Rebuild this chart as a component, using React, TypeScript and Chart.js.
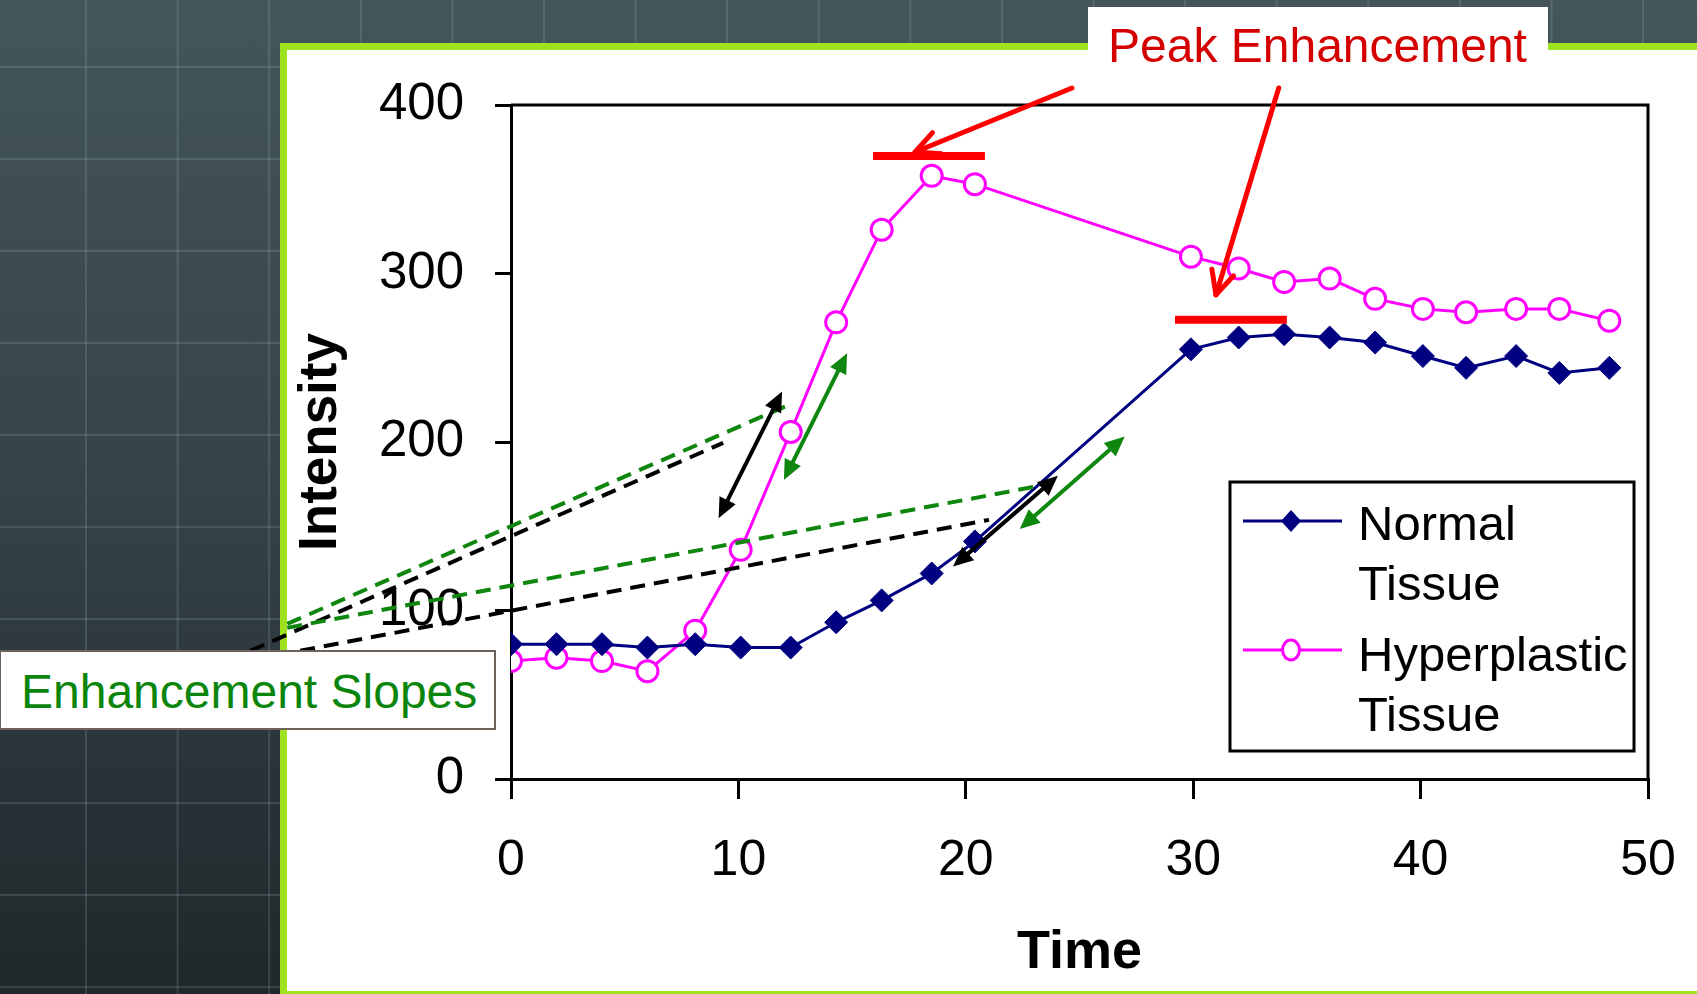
import React, { useEffect, useRef } from 'react';
import { Chart, registerables } from 'chart.js';

Chart.register(...registerables);

// ---- Data ----
const times = [0, 2, 4, 6, 8.1, 10.1, 12.3, 14.3, 16.3, 18.5, 20.4, 29.9, 32, 34, 36, 38, 40.1, 42, 44.2, 46.1, 48.3];
const normalTissue = [80, 80, 80, 78, 80, 78, 78, 93, 106, 122, 141, 255, 262, 264, 262, 259, 251, 244, 251, 241, 244];
const hyperplasticTissue = [70, 72, 70, 64, 88, 136, 206, 271, 326, 358, 353, 310, 303, 295, 297, 285, 279, 277, 279, 279, 272];
const xTickValues = [0, 10, 20, 30, 40, 50];
const yTickValues = [0, 100, 200, 300, 400];
const seriesNames = ['Normal Tissue', 'Hyperplastic Tissue'];

// ---- Annotations, in data units (time, intensity) ----
const slopeGuides = [
  { from: [-9.84, 92.1], to: [12.23, 222.1], color: 'green' },
  { from: [-11.46, 76.1], to: [9.33, 199.5], color: 'black' },
  { from: [-9.84, 89.7], to: [23.7, 175.2], color: 'green' },
  { from: [-9.27, 76.1], to: [21.02, 153.8], color: 'black' },
];
const slopeArrows = [
  { from: [9.13, 154.8], to: [11.92, 229.9], color: 'black' },
  { from: [12.0, 177.5], to: [14.78, 252.7], color: 'green' },
  { from: [19.44, 126.1], to: [24.05, 179.9], color: 'black' },
  { from: [22.37, 148.3], to: [26.99, 203.2], color: 'green' },
];
const peakBars = [
  { x0: 15.92, x1: 20.84, y: 369.7 },
  { x0: 29.2, x1: 34.12, y: 272.5 },
];
const peakArrows = [
  { from: [24.67, 410.1], to: [17.77, 372.1] },
  { from: [33.76, 410.1], to: [31.0, 287.3] },
];

const FONT = '"Liberation Sans", Arial, Helvetica, sans-serif';
const NAVY = '#000080';
const MAGENTA = '#ff00ff';
const GREEN = '#0f870f';
const RED = '#ff0000';

function colorOf(c: string) {
  return c === 'green' ? GREEN : '#000';
}

function filledHead(ctx: CanvasRenderingContext2D, tx: number, ty: number, fx: number, fy: number, len: number, half: number) {
  const a = Math.atan2(ty - fy, tx - fx);
  const bx = tx - len * Math.cos(a);
  const by = ty - len * Math.sin(a);
  ctx.beginPath();
  ctx.moveTo(tx, ty);
  ctx.lineTo(bx + half * Math.sin(a), by - half * Math.cos(a));
  ctx.lineTo(bx - half * Math.sin(a), by + half * Math.cos(a));
  ctx.closePath();
  ctx.fill();
}

const annotationPlugin = {
  id: 'reportAnnotations',
  beforeDatasetsDraw(chart: any) {
    const { ctx, chartArea: ca } = chart;
    ctx.save();
    ctx.strokeStyle = '#000';
    ctx.lineWidth = 3;
    ctx.beginPath();
    ctx.moveTo(ca.left, ca.top);
    ctx.lineTo(ca.right, ca.top);
    ctx.lineTo(ca.right, ca.bottom);
    ctx.stroke();
    ctx.restore();
  },
  afterDraw(chart: any) {
    const { ctx, chartArea: ca } = chart;
    const xs = chart.scales.x;
    const ys = chart.scales.y;
    const px = (v: number) => xs.getPixelForValue(v);
    const py = (v: number) => ys.getPixelForValue(v);

    // dashed slope guides
    ctx.save();
    ctx.lineWidth = 4;
    ctx.setLineDash([15, 9]);
    for (const g of slopeGuides) {
      ctx.strokeStyle = colorOf(g.color);
      ctx.beginPath();
      ctx.moveTo(px(g.from[0]), py(g.from[1]));
      ctx.lineTo(px(g.to[0]), py(g.to[1]));
      ctx.stroke();
    }
    ctx.restore();

    // double-headed slope arrows
    ctx.save();
    for (const a of slopeArrows) {
      const x1 = px(a.from[0]), y1 = py(a.from[1]);
      const x2 = px(a.to[0]), y2 = py(a.to[1]);
      const ang = Math.atan2(y2 - y1, x2 - x1);
      const c = colorOf(a.color);
      ctx.strokeStyle = c;
      ctx.fillStyle = c;
      ctx.lineWidth = 4;
      ctx.beginPath();
      ctx.moveTo(x1 + 14 * Math.cos(ang), y1 + 14 * Math.sin(ang));
      ctx.lineTo(x2 - 14 * Math.cos(ang), y2 - 14 * Math.sin(ang));
      ctx.stroke();
      filledHead(ctx, x2, y2, x1, y1, 20, 9);
      filledHead(ctx, x1, y1, x2, y2, 20, 9);
    }
    ctx.restore();

    // red peak bars
    ctx.save();
    ctx.strokeStyle = RED;
    ctx.lineWidth = 8;
    for (const b of peakBars) {
      ctx.beginPath();
      ctx.moveTo(px(b.x0), py(b.y));
      ctx.lineTo(px(b.x1), py(b.y));
      ctx.stroke();
    }
    // red arrows with open heads
    ctx.lineWidth = 5;
    ctx.lineCap = 'round';
    ctx.lineJoin = 'round';
    for (const a of peakArrows) {
      const x1 = px(a.from[0]), y1 = py(a.from[1]);
      const x2 = px(a.to[0]), y2 = py(a.to[1]);
      const ang = Math.atan2(y2 - y1, x2 - x1);
      const len = 26, spread = 0.45;
      ctx.beginPath();
      ctx.moveTo(x1, y1);
      ctx.lineTo(x2, y2);
      ctx.stroke();
      ctx.beginPath();
      ctx.moveTo(x2 - len * Math.cos(ang - spread), y2 - len * Math.sin(ang - spread));
      ctx.lineTo(x2, y2);
      ctx.lineTo(x2 - len * Math.cos(ang + spread), y2 - len * Math.sin(ang + spread));
      ctx.stroke();
    }
    ctx.restore();

    // legend
    ctx.save();
    const lx = ca.right - 418;
    const ly = ca.top + 377;
    ctx.fillStyle = '#fff';
    ctx.fillRect(lx, ly, 404, 269);
    ctx.strokeStyle = '#000';
    ctx.lineWidth = 3;
    ctx.strokeRect(lx, ly, 404, 269);
    // Normal sample
    ctx.strokeStyle = NAVY;
    ctx.lineWidth = 3;
    ctx.beginPath();
    ctx.moveTo(lx + 13, ly + 39);
    ctx.lineTo(lx + 112, ly + 39);
    ctx.stroke();
    ctx.fillStyle = NAVY;
    ctx.beginPath();
    const mx = lx + 61, my = ly + 39;
    ctx.moveTo(mx, my - 11);
    ctx.lineTo(mx + 10, my);
    ctx.lineTo(mx, my + 11);
    ctx.lineTo(mx - 10, my);
    ctx.closePath();
    ctx.fill();
    // Hyperplastic sample
    ctx.strokeStyle = MAGENTA;
    ctx.beginPath();
    ctx.moveTo(lx + 13, ly + 168);
    ctx.lineTo(lx + 112, ly + 168);
    ctx.stroke();
    ctx.fillStyle = '#fff';
    ctx.beginPath();
    ctx.ellipse(lx + 61, ly + 168, 8.5, 10, 0, 0, Math.PI * 2);
    ctx.fill();
    ctx.stroke();
    // texts
    ctx.fillStyle = '#000';
    ctx.font = `49px ${FONT}`;
    ctx.textBaseline = 'alphabetic';
    ctx.textAlign = 'left';
    const n = seriesNames[0].split(' ');
    const h = seriesNames[1].split(' ');
    ctx.fillText(n[0], lx + 128, ly + 58);
    ctx.fillText(n[1], lx + 128, ly + 118);
    ctx.fillText(h[0], lx + 128, ly + 189);
    ctx.fillText(h[1], lx + 128, ly + 249);
    ctx.restore();
  },
};

export default function App() {
  const canvasRef = useRef<HTMLCanvasElement | null>(null);

  useEffect(() => {
    const canvas = canvasRef.current;
    if (!canvas) return;
    const chart = new Chart(canvas, {
      type: 'line',
      data: {
        datasets: [
          {
            label: seriesNames[0],
            data: times.map((t, i) => ({ x: t, y: normalTissue[i] })),
            borderColor: NAVY,
            backgroundColor: NAVY,
            borderWidth: 3,
            pointStyle: 'rectRot',
            pointRadius: 11.5,
            pointBackgroundColor: NAVY,
            pointBorderColor: NAVY,
            pointBorderWidth: 1,
            tension: 0,
          },
          {
            label: seriesNames[1],
            data: times.map((t, i) => ({ x: t, y: hyperplasticTissue[i] })),
            borderColor: MAGENTA,
            backgroundColor: '#ffffff',
            borderWidth: 3,
            pointStyle: 'circle',
            pointRadius: 10.5,
            pointBackgroundColor: '#ffffff',
            pointBorderColor: MAGENTA,
            pointBorderWidth: 3,
            tension: 0,
          },
        ],
      },
      options: {
        responsive: false,
        animation: false,
        events: [],
        layout: { padding: { top: 105, right: 49, bottom: 8, left: 290 } },
        plugins: { legend: { display: false }, tooltip: { enabled: false } },
        scales: {
          x: {
            type: 'linear',
            min: 0,
            max: 50,
            afterBuildTicks: (s: any) => {
              s.ticks = xTickValues.map((v) => ({ value: v }));
            },
            afterFit: (s: any) => {
              s.height = 207;
              s.paddingLeft = 0;
              s.paddingRight = 0;
            },
            ticks: { font: { family: FONT, size: 50 }, color: '#000', padding: 32, maxRotation: 0, autoSkip: false },
            grid: { drawOnChartArea: false, drawTicks: true, tickLength: 20, color: '#000', lineWidth: 3 },
            border: { display: true, color: '#000', width: 3 },
            title: { display: true, text: 'Time', color: '#000', font: { family: FONT, size: 54, weight: 'bold' }, padding: 0 },
          },
          y: {
            type: 'linear',
            min: 0,
            max: 400,
            afterBuildTicks: (s: any) => {
              s.ticks = yTickValues.map((v) => ({ value: v }));
            },
            afterFit: (s: any) => {
              s.width = 221;
              s.paddingTop = 0;
              s.paddingBottom = 0;
            },
            ticks: { font: { family: FONT, size: 51 }, color: '#000', padding: 31, autoSkip: false },
            grid: { drawOnChartArea: false, drawTicks: true, tickLength: 16, color: '#000', lineWidth: 3 },
            border: { display: true, color: '#000', width: 3 },
            title: { display: true, text: 'Intensity', color: '#000', font: { family: FONT, size: 53, weight: 'bold' }, padding: 0 },
          },
        },
      },
      plugins: [annotationPlugin],
    } as any);
    return () => chart.destroy();
  }, []);

  return (
    <div
      style={{
        position: 'absolute',
        left: 0,
        top: 0,
        width: 1697,
        height: 994,
        overflow: 'hidden',
        backgroundColor: '#313c41',
        backgroundImage:
          'linear-gradient(90deg, rgba(185,205,212,0.17) 0px, rgba(185,205,212,0.17) 2px, transparent 2px), ' +
          'linear-gradient(180deg, rgba(185,205,212,0.17) 0px, rgba(185,205,212,0.17) 2px, transparent 2px), ' +
          'linear-gradient(180deg, #44555c 0%, #37454b 45%, #1f272a 100%)',
        backgroundSize: '91.6px 91.6px, 92px 92px, 100% 100%',
        backgroundPosition: '85px 0px, 0px 66px, 0px 0px',
        fontFamily: FONT,
      }}
    >
      <div
        style={{
          position: 'absolute',
          left: 280,
          top: 43,
          width: 1500,
          height: 955,
          boxSizing: 'border-box',
          border: '7px solid #9fe21f',
          background: '#ffffff',
        }}
      />
      <canvas ref={canvasRef} width={1697} height={994} style={{ position: 'absolute', left: 0, top: 0 }} />
      <div style={{ position: 'absolute', left: 1088, top: 7, width: 460, height: 46, background: '#ffffff' }} />
      <div
        style={{
          position: 'absolute',
          left: 1108,
          top: 22,
          fontSize: 48,
          lineHeight: '48px',
          color: '#d40000',
          whiteSpace: 'nowrap',
          fontFamily: FONT,
        }}
      >
        Peak Enhancement
      </div>
      <div
        style={{
          position: 'absolute',
          left: -1,
          top: 650,
          width: 497,
          height: 80,
          boxSizing: 'border-box',
          border: '2px solid #6e625a',
          background: '#ffffff',
        }}
      />
      <div
        style={{
          position: 'absolute',
          left: 21,
          top: 668,
          fontSize: 48,
          lineHeight: '48px',
          color: '#0c850c',
          whiteSpace: 'nowrap',
          fontFamily: FONT,
        }}
      >
        Enhancement Slopes
      </div>
    </div>
  );
}
